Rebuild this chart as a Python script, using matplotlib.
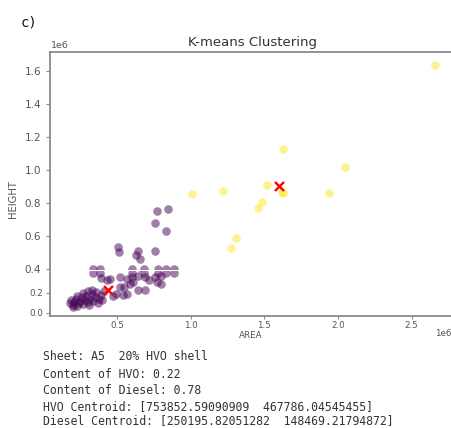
import numpy as np
import matplotlib
matplotlib.use("Agg")
import matplotlib.pyplot as plt
from matplotlib.ticker import FuncFormatter, FixedLocator

# ---- data (values in units of 1e6) ----
UNIT = 1e6
hvo_area = [1.624, 2.049, 1.009, 1.217, 1.516, 1.617, 1.630, 1.940, 1.486, 1.455, 1.305, 1.273, 2.660]
hvo_height = [1.127, 1.020, 0.855, 0.875, 0.911, 0.865, 0.862, 0.861, 0.804, 0.768, 0.586, 0.529, 1.636]

diesel_area = [
    0.18, 0.19, 0.20, 0.21, 0.22, 0.23, 0.24, 0.25, 0.26, 0.27, 0.28, 0.29, 0.30, 0.31,
    0.32, 0.33, 0.34, 0.35, 0.36, 0.37, 0.38, 0.30, 0.27, 0.23, 0.20, 0.33, 0.39, 0.41, 0.40,
    0.39, 0.43, 0.45, 0.52, 0.52, 0.49, 0.47, 0.54, 0.57, 0.55, 0.59, 0.57, 0.60, 0.64,
    0.64, 0.69, 0.69, 0.72, 0.76, 0.77, 0.80, 0.80, 0.61,
    0.34, 0.385, 0.60, 0.68, 0.78, 0.83, 0.89,
    0.773, 0.844, 0.758, 0.830, 0.758, 0.509, 0.516, 0.645, 0.629, 0.656,
]
diesel_height = [
    0.10, 0.13, 0.08, 0.11, 0.14, 0.07, 0.10, 0.12, 0.16, 0.09, 0.13, 0.17, 0.11, 0.08,
    0.14, 0.19, 0.12, 0.16, 0.21, 0.10, 0.14, 0.22, 0.20, 0.17, 0.06, 0.23, 0.18, 0.22, 0.13,
    0.35, 0.33, 0.34, 0.36, 0.26, 0.19, 0.17, 0.18, 0.19, 0.26, 0.29, 0.34, 0.36, 0.37,
    0.23, 0.23, 0.36, 0.33, 0.36, 0.31, 0.29, 0.37, 0.31,
    0.40, 0.40, 0.40, 0.40, 0.40, 0.40, 0.40,
    0.753, 0.762, 0.681, 0.632, 0.511, 0.531, 0.503, 0.511, 0.485, 0.461,
]

centroid_area = [1.600, 0.440]
centroid_height = [0.900, 0.235]

xticks = [0.5, 1.0, 1.5, 2.0, 2.5]
yticks_upper = [0.4, 0.6, 0.8, 1.0, 1.2, 1.4, 1.6]
yticks_lower = [0.0, 0.2]

title = "K-means Clustering"
xlabel = "AREA"
ylabel = "HEIGHT"
panel_label = "c)"
info_lines = [
    "Sheet: A5  20% HVO shell",
    "Content of HVO: 0.22",
    "Content of Diesel: 0.78",
    "HVO Centroid: [753852.59090909  467786.04545455]",
    "Diesel Centroid: [250195.82051282  148469.21794872]",
]

# ---- figure ----
W, H = 452, 428
fig = plt.figure(figsize=(W / 100, H / 100), dpi=100)

def fx(px):
    return px / W

def fy(py):
    return 1 - py / H

left_px, right_px = 50, 455
ax_top = fig.add_axes([fx(left_px), fy(269), fx(right_px - left_px), (269 - 52) / H])
ax_bot = fig.add_axes([fx(left_px), fy(316), fx(right_px - left_px), (316 - 271) / H])

viridis = plt.get_cmap("viridis")
c_diesel = viridis(0.0)
c_hvo = viridis(1.0)

xa_h = np.array(hvo_area) * UNIT
ya_h = np.array(hvo_height) * UNIT
xa_d = np.array(diesel_area) * UNIT
ya_d = np.array(diesel_height) * UNIT
xc = np.array(centroid_area) * UNIT
yc = np.array(centroid_height) * UNIT

spine_col = "#8a8a8a"
tick_col = "#555555"
fmt = FuncFormatter(lambda v, p: f"{v / UNIT:.1f}")

for ax in (ax_top, ax_bot):
    ax.scatter(xa_d, ya_d, s=38, color=c_diesel, alpha=0.5, linewidths=0)
    ax.scatter(xa_h, ya_h, s=38, color=c_hvo, alpha=0.5, linewidths=0)
    ax.scatter(xc, yc, s=42, marker="x", color="red", linewidths=1.7, zorder=5)
    ax.set_xlim(0.045 * UNIT, 2.795 * UNIT)
    ax.spines["right"].set_visible(False)
    for s in ax.spines.values():
        s.set_color(spine_col)
        s.set_linewidth(1.3)
    ax.tick_params(colors=spine_col, labelcolor=tick_col, length=3, width=0.8)
    ax.xaxis.set_major_formatter(fmt)
    ax.yaxis.set_major_formatter(fmt)
    ax.set_facecolor("white")

ax_top.set_ylim(0.4 * UNIT, 1.715 * UNIT)
ax_top.spines["bottom"].set_visible(False)
ax_top.tick_params(axis="x", bottom=False, labelbottom=False)
ax_top.yaxis.set_major_locator(FixedLocator([v * UNIT for v in yticks_upper]))
ax_top.tick_params(axis="y", labelsize=7.5)
ax_top.set_title(title, fontsize=9.5, color="#333333", pad=4)

ax_bot.set_ylim(-0.03 * UNIT, 0.42 * UNIT)
ax_bot.spines["top"].set_visible(False)
ax_bot.yaxis.set_major_locator(FixedLocator([v * UNIT for v in yticks_lower]))
ax_bot.xaxis.set_major_locator(FixedLocator([v * UNIT for v in xticks]))
ax_bot.tick_params(axis="y", labelsize=6.3, pad=2)
ax_bot.tick_params(axis="x", labelsize=6.3, pad=1, length=2.5)

# axis labels and multipliers
fig.text(fx(251), fy(335), xlabel, fontsize=6.3, color="#555555", ha="center", va="center")
fig.text(fx(13), fy(199), ylabel, fontsize=7.2, color="#555555", ha="center", va="center", rotation=90)
fig.text(fx(51), fy(46), "1e6", fontsize=6.8, color="#555555", ha="left", va="center")
fig.text(fx(451), fy(334), "1e6", fontsize=6.3, color="#555555", ha="right", va="center")

# panel label
fig.text(fx(21), fy(22), panel_label, fontsize=10, family="DejaVu Sans Mono", color="#111111",
         ha="left", va="center")

# info text
ys = [356, 374, 391, 407, 421]
for line, yy in zip(info_lines, ys):
    fig.text(fx(43), fy(yy), line, fontsize=8.3, family="DejaVu Sans Mono", color="#333333",
             ha="left", va="center")

fig.savefig("out.png", dpi=100)
